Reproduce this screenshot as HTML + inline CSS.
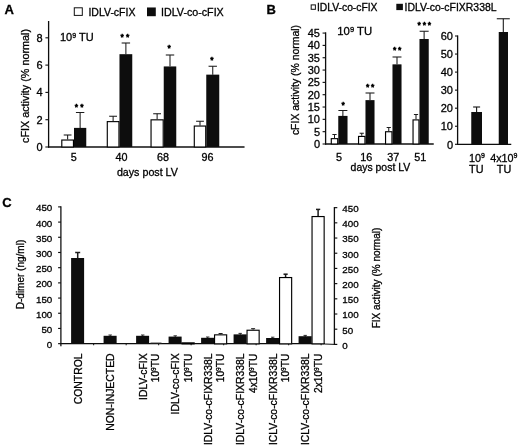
<!DOCTYPE html>
<html><head><meta charset="utf-8"><title>Figure</title>
<style>html,body{margin:0;padding:0;background:#fff;}svg{display:block}text{font-family:"Liberation Sans",sans-serif;}</style>
</head><body>
<svg width="520" height="448" viewBox="0 0 520 448">
<defs><filter id="soft" x="0" y="0" width="520" height="448" filterUnits="userSpaceOnUse"><feGaussianBlur stdDeviation="0.3"/></filter></defs>
<rect width="520" height="448" fill="#fff"/>
<g filter="url(#soft)">
<text x="4.6" y="14" font-size="13" text-anchor="start" font-weight="bold" fill="#050505" stroke="#050505" stroke-width="0.3">A</text>
<rect x="74.3" y="7.8" width="8" height="7.6" fill="#fff" stroke="#111" stroke-width="1"/>
<text x="88.4" y="15.6" font-size="10.5" text-anchor="start" font-weight="normal" fill="#050505" stroke="#050505" stroke-width="0.3">IDLV-cFIX</text>
<rect x="147" y="7.5" width="8.8" height="8.7" fill="#0a0a0a"/>
<text x="161" y="15.6" font-size="10.7" text-anchor="start" font-weight="normal" fill="#050505" stroke="#050505" stroke-width="0.3">IDLV-co-cFIX</text>
<line x1="48.6" y1="21" x2="48.6" y2="147.6" stroke="#111" stroke-width="1.3"/>
<line x1="48.0" y1="147.0" x2="244.5" y2="147.0" stroke="#111" stroke-width="1.3"/>
<line x1="45.4" y1="147.0" x2="48.6" y2="147.0" stroke="#111" stroke-width="1.1"/>
<text x="42.6" y="150.9" font-size="11" text-anchor="end" font-weight="normal" fill="#050505" stroke="#050505" stroke-width="0.3">0</text>
<line x1="45.4" y1="119.7" x2="48.6" y2="119.7" stroke="#111" stroke-width="1.1"/>
<text x="42.6" y="123.60000000000001" font-size="11" text-anchor="end" font-weight="normal" fill="#050505" stroke="#050505" stroke-width="0.3">2</text>
<line x1="45.4" y1="92.4" x2="48.6" y2="92.4" stroke="#111" stroke-width="1.1"/>
<text x="42.6" y="96.30000000000001" font-size="11" text-anchor="end" font-weight="normal" fill="#050505" stroke="#050505" stroke-width="0.3">4</text>
<line x1="45.4" y1="65.1" x2="48.6" y2="65.1" stroke="#111" stroke-width="1.1"/>
<text x="42.6" y="69.0" font-size="11" text-anchor="end" font-weight="normal" fill="#050505" stroke="#050505" stroke-width="0.3">6</text>
<line x1="45.4" y1="37.8" x2="48.6" y2="37.8" stroke="#111" stroke-width="1.1"/>
<text x="42.6" y="41.699999999999996" font-size="11" text-anchor="end" font-weight="normal" fill="#050505" stroke="#050505" stroke-width="0.3">8</text>
<text x="60" y="41.3" font-size="11" text-anchor="start" font-weight="normal" fill="#050505" stroke="#050505" stroke-width="0.3">10<tspan font-size="7" dy="-3.6">9</tspan><tspan dy="3.6"> TU</tspan></text>
<text x="29.2" y="86" font-size="10.8" text-anchor="middle" font-weight="normal" fill="#050505" transform="rotate(-90 29.2 86)" stroke="#050505" stroke-width="0.3">cFIX activity (% normal)</text>
<line x1="67.625" y1="135" x2="67.625" y2="139.4925" stroke="#1a1a1a" stroke-width="1.05"/>
<line x1="63.725" y1="135" x2="71.525" y2="135" stroke="#1a1a1a" stroke-width="1.05"/>
<line x1="80.125" y1="112.5" x2="80.125" y2="127.89" stroke="#1a1a1a" stroke-width="1.05"/>
<line x1="75.925" y1="112.5" x2="84.325" y2="112.5" stroke="#1a1a1a" stroke-width="1.05"/>
<rect x="61.80" y="140.04" width="11.65" height="6.96" fill="#fff" stroke="#050505" stroke-width="1.15"/>
<rect x="74" y="127.89" width="12.25" height="19.11" fill="#0a0a0a"/>
<text x="76.47" y="109.5" font-size="8.6" text-anchor="middle" fill="#111" stroke="#000" stroke-width="0.6">*</text>
<text x="81.97" y="109.5" font-size="8.6" text-anchor="middle" fill="#111" stroke="#000" stroke-width="0.6">*</text>
<text x="73.75" y="161.4" font-size="10.8" text-anchor="middle" font-weight="normal" fill="#050505" stroke="#050505" stroke-width="0.3">5</text>
<line x1="113.125" y1="116.25" x2="113.125" y2="121.065" stroke="#1a1a1a" stroke-width="1.05"/>
<line x1="109.225" y1="116.25" x2="117.025" y2="116.25" stroke="#1a1a1a" stroke-width="1.05"/>
<line x1="125.875" y1="43" x2="125.875" y2="54.18000000000001" stroke="#1a1a1a" stroke-width="1.05"/>
<line x1="121.675" y1="43" x2="130.075" y2="43" stroke="#1a1a1a" stroke-width="1.05"/>
<rect x="107.30" y="121.61" width="11.65" height="25.39" fill="#fff" stroke="#050505" stroke-width="1.15"/>
<rect x="119.5" y="54.18000000000001" width="12.75" height="92.82" fill="#0a0a0a"/>
<text x="122.22" y="39.5" font-size="8.6" text-anchor="middle" fill="#111" stroke="#000" stroke-width="0.6">*</text>
<text x="127.72" y="39.5" font-size="8.6" text-anchor="middle" fill="#111" stroke="#000" stroke-width="0.6">*</text>
<text x="121.5" y="161.4" font-size="10.8" text-anchor="middle" font-weight="normal" fill="#050505" stroke="#050505" stroke-width="0.3">40</text>
<line x1="157.125" y1="113.75" x2="157.125" y2="119.29050000000001" stroke="#1a1a1a" stroke-width="1.05"/>
<line x1="153.225" y1="113.75" x2="161.025" y2="113.75" stroke="#1a1a1a" stroke-width="1.05"/>
<line x1="170.0" y1="55" x2="170.0" y2="66.46499999999999" stroke="#1a1a1a" stroke-width="1.05"/>
<line x1="165.8" y1="55" x2="174.2" y2="55" stroke="#1a1a1a" stroke-width="1.05"/>
<rect x="151.05" y="119.84" width="12.15" height="27.16" fill="#fff" stroke="#050505" stroke-width="1.15"/>
<rect x="163.75" y="66.46499999999999" width="12.5" height="80.53500000000001" fill="#0a0a0a"/>
<text x="169.10" y="51.0" font-size="8.6" text-anchor="middle" fill="#111" stroke="#000" stroke-width="0.6">*</text>
<text x="163.0" y="161.4" font-size="10.8" text-anchor="middle" font-weight="normal" fill="#050505" stroke="#050505" stroke-width="0.3">68</text>
<line x1="200.0" y1="121.25" x2="200.0" y2="125.50125" stroke="#1a1a1a" stroke-width="1.05"/>
<line x1="196.1" y1="121.25" x2="203.9" y2="121.25" stroke="#1a1a1a" stroke-width="1.05"/>
<line x1="212.75" y1="66.25" x2="212.75" y2="74.655" stroke="#1a1a1a" stroke-width="1.05"/>
<line x1="208.55" y1="66.25" x2="216.95" y2="66.25" stroke="#1a1a1a" stroke-width="1.05"/>
<rect x="194.30" y="126.05" width="11.40" height="20.95" fill="#fff" stroke="#050505" stroke-width="1.15"/>
<rect x="206.25" y="74.655" width="13.0" height="72.345" fill="#0a0a0a"/>
<text x="211.85" y="62.5" font-size="8.6" text-anchor="middle" fill="#111" stroke="#000" stroke-width="0.6">*</text>
<text x="207.5" y="161.4" font-size="10.8" text-anchor="middle" font-weight="normal" fill="#050505" stroke="#050505" stroke-width="0.3">96</text>
<text x="147.4" y="176.2" font-size="10.7" text-anchor="middle" font-weight="normal" fill="#050505" stroke="#050505" stroke-width="0.3">days post LV</text>
<text x="266.6" y="14" font-size="13" text-anchor="start" font-weight="bold" fill="#050505" stroke="#050505" stroke-width="0.3">B</text>
<rect x="311.2" y="4.9" width="4.2" height="4.4" fill="#fff" stroke="#111" stroke-width="1"/>
<text x="317" y="11.0" font-size="10.3" text-anchor="start" font-weight="normal" fill="#050505" stroke="#050505" stroke-width="0.3">IDLV-co-cFIX</text>
<rect x="396.3" y="3.8" width="6.6" height="6.3" fill="#0a0a0a"/>
<text x="404.5" y="11.2" font-size="10.45" text-anchor="start" font-weight="normal" fill="#050505" stroke="#050505" stroke-width="0.3">IDLV-co-cFIXR338L</text>
<line x1="325.6" y1="32.3" x2="325.6" y2="144.6" stroke="#111" stroke-width="1.3"/>
<line x1="325.0" y1="144.0" x2="433.75" y2="144.0" stroke="#111" stroke-width="1.3"/>
<line x1="322.6" y1="144.0" x2="325.6" y2="144.0" stroke="#111" stroke-width="1.1"/>
<text x="320" y="148.0" font-size="11" text-anchor="end" font-weight="normal" fill="#050505" stroke="#050505" stroke-width="0.3">0</text>
<line x1="322.6" y1="131.675" x2="325.6" y2="131.675" stroke="#111" stroke-width="1.1"/>
<text x="320" y="135.675" font-size="11" text-anchor="end" font-weight="normal" fill="#050505" stroke="#050505" stroke-width="0.3">5</text>
<line x1="322.6" y1="119.35" x2="325.6" y2="119.35" stroke="#111" stroke-width="1.1"/>
<text x="320" y="123.35" font-size="11" text-anchor="end" font-weight="normal" fill="#050505" stroke="#050505" stroke-width="0.3">10</text>
<line x1="322.6" y1="107.025" x2="325.6" y2="107.025" stroke="#111" stroke-width="1.1"/>
<text x="320" y="111.025" font-size="11" text-anchor="end" font-weight="normal" fill="#050505" stroke="#050505" stroke-width="0.3">15</text>
<line x1="322.6" y1="94.7" x2="325.6" y2="94.7" stroke="#111" stroke-width="1.1"/>
<text x="320" y="98.7" font-size="11" text-anchor="end" font-weight="normal" fill="#050505" stroke="#050505" stroke-width="0.3">20</text>
<line x1="322.6" y1="82.375" x2="325.6" y2="82.375" stroke="#111" stroke-width="1.1"/>
<text x="320" y="86.375" font-size="11" text-anchor="end" font-weight="normal" fill="#050505" stroke="#050505" stroke-width="0.3">25</text>
<line x1="322.6" y1="70.05000000000001" x2="325.6" y2="70.05000000000001" stroke="#111" stroke-width="1.1"/>
<text x="320" y="74.05000000000001" font-size="11" text-anchor="end" font-weight="normal" fill="#050505" stroke="#050505" stroke-width="0.3">30</text>
<line x1="322.6" y1="57.72500000000001" x2="325.6" y2="57.72500000000001" stroke="#111" stroke-width="1.1"/>
<text x="320" y="61.72500000000001" font-size="11" text-anchor="end" font-weight="normal" fill="#050505" stroke="#050505" stroke-width="0.3">35</text>
<line x1="322.6" y1="45.400000000000006" x2="325.6" y2="45.400000000000006" stroke="#111" stroke-width="1.1"/>
<text x="320" y="49.400000000000006" font-size="11" text-anchor="end" font-weight="normal" fill="#050505" stroke="#050505" stroke-width="0.3">40</text>
<line x1="322.6" y1="33.075" x2="325.6" y2="33.075" stroke="#111" stroke-width="1.1"/>
<text x="320" y="37.075" font-size="11" text-anchor="end" font-weight="normal" fill="#050505" stroke="#050505" stroke-width="0.3">45</text>
<text x="337.3" y="35.3" font-size="11.3" text-anchor="start" font-weight="normal" fill="#050505" stroke="#050505" stroke-width="0.3">10<tspan font-size="7.6" dy="-3.6">9</tspan><tspan dy="3.6"> TU</tspan></text>
<text x="299.2" y="80" font-size="10.45" text-anchor="middle" font-weight="normal" fill="#050505" transform="rotate(-90 299.2 80)" stroke="#050505" stroke-width="0.3">cFIX activity (% normal)</text>
<line x1="334.5" y1="134.5" x2="334.5" y2="138.084" stroke="#1a1a1a" stroke-width="1.05"/>
<line x1="332.4" y1="134.5" x2="336.6" y2="134.5" stroke="#1a1a1a" stroke-width="1.05"/>
<line x1="342.875" y1="110.5" x2="342.875" y2="115.899" stroke="#1a1a1a" stroke-width="1.05"/>
<line x1="338.375" y1="110.5" x2="347.375" y2="110.5" stroke="#1a1a1a" stroke-width="1.05"/>
<rect x="331.30" y="138.63" width="6.40" height="5.37" fill="#fff" stroke="#050505" stroke-width="1.15"/>
<rect x="338.25" y="115.899" width="9.25" height="28.101" fill="#0a0a0a"/>
<text x="343.07" y="108.2" font-size="8.6" text-anchor="middle" fill="#111" stroke="#000" stroke-width="0.6">*</text>
<text x="339.05" y="161.3" font-size="10.8" text-anchor="middle" font-weight="normal" fill="#050505" stroke="#050505" stroke-width="0.3">5</text>
<line x1="361.75" y1="133.25" x2="361.75" y2="135.8655" stroke="#1a1a1a" stroke-width="1.05"/>
<line x1="359.65" y1="133.25" x2="363.85" y2="133.25" stroke="#1a1a1a" stroke-width="1.05"/>
<line x1="370.0" y1="93" x2="370.0" y2="100.12299999999999" stroke="#1a1a1a" stroke-width="1.05"/>
<line x1="365.5" y1="93" x2="374.5" y2="93" stroke="#1a1a1a" stroke-width="1.05"/>
<rect x="358.55" y="136.42" width="6.40" height="7.58" fill="#fff" stroke="#050505" stroke-width="1.15"/>
<rect x="365.5" y="100.12299999999999" width="9.0" height="43.87700000000001" fill="#0a0a0a"/>
<text x="367.60" y="90.2" font-size="8.6" text-anchor="middle" fill="#111" stroke="#000" stroke-width="0.6">*</text>
<text x="372.80" y="90.2" font-size="8.6" text-anchor="middle" fill="#111" stroke="#000" stroke-width="0.6">*</text>
<text x="366.3" y="161.3" font-size="10.8" text-anchor="middle" font-weight="normal" fill="#050505" stroke="#050505" stroke-width="0.3">16</text>
<line x1="388.75" y1="127.5" x2="388.75" y2="131.182" stroke="#1a1a1a" stroke-width="1.05"/>
<line x1="386.65" y1="127.5" x2="390.85" y2="127.5" stroke="#1a1a1a" stroke-width="1.05"/>
<line x1="397.0" y1="57" x2="397.0" y2="64.38050000000001" stroke="#1a1a1a" stroke-width="1.05"/>
<line x1="392.5" y1="57" x2="401.5" y2="57" stroke="#1a1a1a" stroke-width="1.05"/>
<rect x="385.55" y="131.73" width="6.40" height="12.27" fill="#fff" stroke="#050505" stroke-width="1.15"/>
<rect x="392.5" y="64.38050000000001" width="9.0" height="79.61949999999999" fill="#0a0a0a"/>
<text x="394.60" y="53.2" font-size="8.6" text-anchor="middle" fill="#111" stroke="#000" stroke-width="0.6">*</text>
<text x="399.80" y="53.2" font-size="8.6" text-anchor="middle" fill="#111" stroke="#000" stroke-width="0.6">*</text>
<text x="393.3" y="161.3" font-size="10.8" text-anchor="middle" font-weight="normal" fill="#050505" stroke="#050505" stroke-width="0.3">37</text>
<line x1="416.0" y1="114.5" x2="416.0" y2="119.35" stroke="#1a1a1a" stroke-width="1.05"/>
<line x1="413.9" y1="114.5" x2="418.1" y2="114.5" stroke="#1a1a1a" stroke-width="1.05"/>
<line x1="424.125" y1="31.25" x2="424.125" y2="38.991" stroke="#1a1a1a" stroke-width="1.05"/>
<line x1="419.625" y1="31.25" x2="428.625" y2="31.25" stroke="#1a1a1a" stroke-width="1.05"/>
<rect x="413.05" y="119.90" width="5.90" height="24.10" fill="#fff" stroke="#050505" stroke-width="1.15"/>
<rect x="419.5" y="38.991" width="9.25" height="105.009" fill="#0a0a0a"/>
<text x="419.12" y="28.2" font-size="8.6" text-anchor="middle" fill="#111" stroke="#000" stroke-width="0.6">*</text>
<text x="424.32" y="28.2" font-size="8.6" text-anchor="middle" fill="#111" stroke="#000" stroke-width="0.6">*</text>
<text x="429.52" y="28.2" font-size="8.6" text-anchor="middle" fill="#111" stroke="#000" stroke-width="0.6">*</text>
<text x="420.3" y="161.3" font-size="10.8" text-anchor="middle" font-weight="normal" fill="#050505" stroke="#050505" stroke-width="0.3">51</text>
<text x="380.4" y="170.7" font-size="10.45" text-anchor="middle" font-weight="normal" fill="#050505" stroke="#050505" stroke-width="0.3">days post LV</text>
<line x1="457.6" y1="35.40000000000001" x2="457.6" y2="144.9" stroke="#111" stroke-width="1.3"/>
<line x1="457.0" y1="144.3" x2="511.25" y2="144.3" stroke="#111" stroke-width="1.3"/>
<line x1="455.0" y1="144.3" x2="457.6" y2="144.3" stroke="#111" stroke-width="1.1"/>
<text x="453.0" y="148.5" font-size="11" text-anchor="end" font-weight="normal" fill="#050505" stroke="#050505" stroke-width="0.3">0</text>
<line x1="455.0" y1="126.25000000000001" x2="457.6" y2="126.25000000000001" stroke="#111" stroke-width="1.1"/>
<text x="453.0" y="130.45000000000002" font-size="11" text-anchor="end" font-weight="normal" fill="#050505" stroke="#050505" stroke-width="0.3">10</text>
<line x1="455.0" y1="108.20000000000002" x2="457.6" y2="108.20000000000002" stroke="#111" stroke-width="1.1"/>
<text x="453.0" y="112.40000000000002" font-size="11" text-anchor="end" font-weight="normal" fill="#050505" stroke="#050505" stroke-width="0.3">20</text>
<line x1="455.0" y1="90.15" x2="457.6" y2="90.15" stroke="#111" stroke-width="1.1"/>
<text x="453.0" y="94.35000000000001" font-size="11" text-anchor="end" font-weight="normal" fill="#050505" stroke="#050505" stroke-width="0.3">30</text>
<line x1="455.0" y1="72.10000000000001" x2="457.6" y2="72.10000000000001" stroke="#111" stroke-width="1.1"/>
<text x="453.0" y="76.30000000000001" font-size="11" text-anchor="end" font-weight="normal" fill="#050505" stroke="#050505" stroke-width="0.3">40</text>
<line x1="455.0" y1="54.05000000000001" x2="457.6" y2="54.05000000000001" stroke="#111" stroke-width="1.1"/>
<text x="453.0" y="58.250000000000014" font-size="11" text-anchor="end" font-weight="normal" fill="#050505" stroke="#050505" stroke-width="0.3">50</text>
<line x1="455.0" y1="36.000000000000014" x2="457.6" y2="36.000000000000014" stroke="#111" stroke-width="1.1"/>
<text x="453.0" y="40.20000000000002" font-size="11" text-anchor="end" font-weight="normal" fill="#050505" stroke="#050505" stroke-width="0.3">60</text>
<line x1="476.6" y1="107" x2="476.6" y2="112" stroke="#1a1a1a" stroke-width="1.1"/>
<line x1="473.1" y1="107" x2="480.1" y2="107" stroke="#1a1a1a" stroke-width="1.1"/>
<rect x="471.25" y="111.99050000000003" width="10.75" height="32.309499999999986" fill="#0a0a0a"/>
<line x1="503.3" y1="18.75" x2="503.3" y2="33" stroke="#1a1a1a" stroke-width="1.1"/>
<line x1="496.8" y1="18.75" x2="509.8" y2="18.75" stroke="#1a1a1a" stroke-width="1.1"/>
<rect x="498.75" y="32" width="9.25" height="112.30000000000001" fill="#0a0a0a"/>
<text x="477" y="161.8" font-size="10.8" text-anchor="middle" font-weight="normal" fill="#050505" stroke="#050505" stroke-width="0.3">10<tspan font-size="7" dy="-3.6">9</tspan></text>
<text x="476.3" y="173.3" font-size="10.8" text-anchor="middle" font-weight="normal" fill="#050505" stroke="#050505" stroke-width="0.3">TU</text>
<text x="503.8" y="161.8" font-size="10.8" text-anchor="middle" font-weight="normal" fill="#050505" stroke="#050505" stroke-width="0.3">4x10<tspan font-size="7" dy="-3.6">9</tspan></text>
<text x="504" y="173.3" font-size="10.8" text-anchor="middle" font-weight="normal" fill="#050505" stroke="#050505" stroke-width="0.3">TU</text>
<text x="2.3" y="206.5" font-size="13" text-anchor="start" font-weight="bold" fill="#050505" stroke="#050505" stroke-width="0.3">C</text>
<line x1="60.9" y1="206.295" x2="60.9" y2="346.25" stroke="#111" stroke-width="1.3"/>
<line x1="334.4" y1="207.045" x2="334.4" y2="345.0" stroke="#111" stroke-width="1.3"/>
<line x1="60.3" y1="343.65" x2="325" y2="343.65" stroke="#111" stroke-width="1.25"/>
<line x1="325" y1="344.04999999999995" x2="335.0" y2="344.4" stroke="#111" stroke-width="1.0"/>
<line x1="58.1" y1="343.65" x2="60.9" y2="343.65" stroke="#111" stroke-width="1.15"/>
<text x="52.3" y="348.09999999999997" font-size="9.8" text-anchor="end" font-weight="normal" fill="#050505" stroke="#050505" stroke-width="0.3">0</text>
<line x1="334.4" y1="344.4" x2="337.29999999999995" y2="344.4" stroke="#111" stroke-width="1.15"/>
<text x="342.3" y="348.79999999999995" font-size="9.8" text-anchor="start" font-weight="normal" fill="#050505" stroke="#050505" stroke-width="0.3">0</text>
<line x1="58.1" y1="328.455" x2="60.9" y2="328.455" stroke="#111" stroke-width="1.15"/>
<text x="52.3" y="332.905" font-size="9.8" text-anchor="end" font-weight="normal" fill="#050505" stroke="#050505" stroke-width="0.3">50</text>
<line x1="334.4" y1="329.205" x2="337.29999999999995" y2="329.205" stroke="#111" stroke-width="1.15"/>
<text x="342.3" y="333.60499999999996" font-size="9.8" text-anchor="start" font-weight="normal" fill="#050505" stroke="#050505" stroke-width="0.3">50</text>
<line x1="58.1" y1="313.26" x2="60.9" y2="313.26" stroke="#111" stroke-width="1.15"/>
<text x="52.3" y="317.71" font-size="9.8" text-anchor="end" font-weight="normal" fill="#050505" stroke="#050505" stroke-width="0.3">100</text>
<line x1="334.4" y1="314.01" x2="337.29999999999995" y2="314.01" stroke="#111" stroke-width="1.15"/>
<text x="342.3" y="318.40999999999997" font-size="9.8" text-anchor="start" font-weight="normal" fill="#050505" stroke="#050505" stroke-width="0.3">100</text>
<line x1="58.1" y1="298.065" x2="60.9" y2="298.065" stroke="#111" stroke-width="1.15"/>
<text x="52.3" y="302.515" font-size="9.8" text-anchor="end" font-weight="normal" fill="#050505" stroke="#050505" stroke-width="0.3">150</text>
<line x1="334.4" y1="298.815" x2="337.29999999999995" y2="298.815" stroke="#111" stroke-width="1.15"/>
<text x="342.3" y="303.215" font-size="9.8" text-anchor="start" font-weight="normal" fill="#050505" stroke="#050505" stroke-width="0.3">150</text>
<line x1="58.1" y1="282.87" x2="60.9" y2="282.87" stroke="#111" stroke-width="1.15"/>
<text x="52.3" y="287.32" font-size="9.8" text-anchor="end" font-weight="normal" fill="#050505" stroke="#050505" stroke-width="0.3">200</text>
<line x1="334.4" y1="283.62" x2="337.29999999999995" y2="283.62" stroke="#111" stroke-width="1.15"/>
<text x="342.3" y="288.02" font-size="9.8" text-anchor="start" font-weight="normal" fill="#050505" stroke="#050505" stroke-width="0.3">200</text>
<line x1="58.1" y1="267.67499999999995" x2="60.9" y2="267.67499999999995" stroke="#111" stroke-width="1.15"/>
<text x="52.3" y="272.12499999999994" font-size="9.8" text-anchor="end" font-weight="normal" fill="#050505" stroke="#050505" stroke-width="0.3">250</text>
<line x1="334.4" y1="268.42499999999995" x2="337.29999999999995" y2="268.42499999999995" stroke="#111" stroke-width="1.15"/>
<text x="342.3" y="272.82499999999993" font-size="9.8" text-anchor="start" font-weight="normal" fill="#050505" stroke="#050505" stroke-width="0.3">250</text>
<line x1="58.1" y1="252.47999999999996" x2="60.9" y2="252.47999999999996" stroke="#111" stroke-width="1.15"/>
<text x="52.3" y="256.92999999999995" font-size="9.8" text-anchor="end" font-weight="normal" fill="#050505" stroke="#050505" stroke-width="0.3">300</text>
<line x1="334.4" y1="253.22999999999996" x2="337.29999999999995" y2="253.22999999999996" stroke="#111" stroke-width="1.15"/>
<text x="342.3" y="257.62999999999994" font-size="9.8" text-anchor="start" font-weight="normal" fill="#050505" stroke="#050505" stroke-width="0.3">300</text>
<line x1="58.1" y1="237.28499999999997" x2="60.9" y2="237.28499999999997" stroke="#111" stroke-width="1.15"/>
<text x="52.3" y="241.73499999999996" font-size="9.8" text-anchor="end" font-weight="normal" fill="#050505" stroke="#050505" stroke-width="0.3">350</text>
<line x1="334.4" y1="238.03499999999997" x2="337.29999999999995" y2="238.03499999999997" stroke="#111" stroke-width="1.15"/>
<text x="342.3" y="242.43499999999997" font-size="9.8" text-anchor="start" font-weight="normal" fill="#050505" stroke="#050505" stroke-width="0.3">350</text>
<line x1="58.1" y1="222.08999999999997" x2="60.9" y2="222.08999999999997" stroke="#111" stroke-width="1.15"/>
<text x="52.3" y="226.53999999999996" font-size="9.8" text-anchor="end" font-weight="normal" fill="#050505" stroke="#050505" stroke-width="0.3">400</text>
<line x1="334.4" y1="222.83999999999997" x2="337.29999999999995" y2="222.83999999999997" stroke="#111" stroke-width="1.15"/>
<text x="342.3" y="227.23999999999998" font-size="9.8" text-anchor="start" font-weight="normal" fill="#050505" stroke="#050505" stroke-width="0.3">400</text>
<line x1="58.1" y1="206.89499999999998" x2="60.9" y2="206.89499999999998" stroke="#111" stroke-width="1.15"/>
<text x="52.3" y="211.34499999999997" font-size="9.8" text-anchor="end" font-weight="normal" fill="#050505" stroke="#050505" stroke-width="0.3">450</text>
<line x1="334.4" y1="207.64499999999998" x2="337.29999999999995" y2="207.64499999999998" stroke="#111" stroke-width="1.15"/>
<text x="342.3" y="212.045" font-size="9.8" text-anchor="start" font-weight="normal" fill="#050505" stroke="#050505" stroke-width="0.3">450</text>
<line x1="93.65" y1="343.65" x2="93.65" y2="345.25" stroke="#111" stroke-width="1"/>
<line x1="126.15" y1="343.65" x2="126.15" y2="345.25" stroke="#111" stroke-width="1"/>
<line x1="158.65" y1="343.65" x2="158.65" y2="345.25" stroke="#111" stroke-width="1"/>
<line x1="191.15" y1="343.65" x2="191.15" y2="345.25" stroke="#111" stroke-width="1"/>
<line x1="223.65" y1="343.65" x2="223.65" y2="345.25" stroke="#111" stroke-width="1"/>
<line x1="256.15" y1="343.65" x2="256.15" y2="345.25" stroke="#111" stroke-width="1"/>
<line x1="288.65" y1="343.65" x2="288.65" y2="345.25" stroke="#111" stroke-width="1"/>
<line x1="321.15" y1="343.65" x2="321.15" y2="345.25" stroke="#111" stroke-width="1"/>
<text x="24" y="274.5" font-size="10" text-anchor="middle" font-weight="normal" fill="#050505" transform="rotate(-90 24 274.5)" stroke="#050505" stroke-width="0.3">D-dimer (ng/ml)</text>
<text x="379.5" y="278" font-size="10" text-anchor="middle" font-weight="normal" fill="#050505" transform="rotate(-90 379.5 278)" stroke="#050505" stroke-width="0.3">FIX activity (% normal)</text>
<line x1="77.7" y1="252.5" x2="77.7" y2="259.0" stroke="#1a1a1a" stroke-width="1.5"/>
<line x1="75.2" y1="252.5" x2="80.2" y2="252.5" stroke="#1a1a1a" stroke-width="1.5"/>
<rect x="71.1" y="258.0" width="13.0" height="85.94999999999999" fill="#0a0a0a"/>
<text x="81.6" y="353.4" font-size="10.4" text-anchor="end" font-weight="normal" fill="#050505" transform="rotate(-90 81.6 353.4)" stroke="#050505" stroke-width="0.3">CONTROL</text>
<line x1="110.2" y1="335.0" x2="110.2" y2="336.8" stroke="#1a1a1a" stroke-width="0.9"/>
<line x1="108.5" y1="335.0" x2="111.9" y2="335.0" stroke="#1a1a1a" stroke-width="0.9"/>
<rect x="103.6" y="335.8" width="13.0" height="8.149999999999977" fill="#0a0a0a"/>
<text x="114.1" y="353.4" font-size="10.4" text-anchor="end" font-weight="normal" fill="#050505" transform="rotate(-90 114.1 353.4)" stroke="#050505" stroke-width="0.3">NON-INJECTED</text>
<line x1="142.7" y1="335.0" x2="142.7" y2="336.8" stroke="#1a1a1a" stroke-width="0.9"/>
<line x1="141.0" y1="335.0" x2="144.39999999999998" y2="335.0" stroke="#1a1a1a" stroke-width="0.9"/>
<rect x="136.1" y="335.8" width="13.0" height="8.149999999999977" fill="#0a0a0a"/>
<line x1="150.5" y1="342.75" x2="161.5" y2="342.75" stroke="#555" stroke-width="0.7"/>
<text x="146.6" y="353.4" font-size="10.4" text-anchor="end" font-weight="normal" fill="#050505" transform="rotate(-90 146.6 353.4)" stroke="#050505" stroke-width="0.3">IDLV-cFIX</text>
<text x="159.3" y="353.7" font-size="10.2" text-anchor="end" font-weight="normal" fill="#050505" transform="rotate(-90 159.3 353.7)" stroke="#050505" stroke-width="0.3">10<tspan font-size="6.5" dy="-3.2">9</tspan><tspan dy="3.2">TU</tspan></text>
<line x1="175.2" y1="335.8" x2="175.2" y2="337.6" stroke="#1a1a1a" stroke-width="0.9"/>
<line x1="173.5" y1="335.8" x2="176.89999999999998" y2="335.8" stroke="#1a1a1a" stroke-width="0.9"/>
<rect x="168.6" y="336.6" width="13.0" height="7.349999999999966" fill="#0a0a0a"/>
<rect x="182.05" y="342.85" width="12.10" height="1.00" fill="#fff" stroke="#050505" stroke-width="1.15"/>
<text x="179.1" y="353.4" font-size="10.4" text-anchor="end" font-weight="normal" fill="#050505" transform="rotate(-90 179.1 353.4)" stroke="#050505" stroke-width="0.3">IDLV-co-cFIX</text>
<text x="191.8" y="353.7" font-size="10.2" text-anchor="end" font-weight="normal" fill="#050505" transform="rotate(-90 191.8 353.7)" stroke="#050505" stroke-width="0.3">10<tspan font-size="6.5" dy="-3.2">9</tspan><tspan dy="3.2">TU</tspan></text>
<line x1="207.7" y1="337.0" x2="207.7" y2="338.8" stroke="#1a1a1a" stroke-width="0.9"/>
<line x1="206.0" y1="337.0" x2="209.39999999999998" y2="337.0" stroke="#1a1a1a" stroke-width="0.9"/>
<rect x="201.1" y="337.8" width="13.0" height="6.149999999999977" fill="#0a0a0a"/>
<line x1="220.6" y1="333.5" x2="220.6" y2="334.3" stroke="#1a1a1a" stroke-width="1.0"/>
<line x1="218.6" y1="333.5" x2="222.6" y2="333.5" stroke="#1a1a1a" stroke-width="1.0"/>
<rect x="214.55" y="334.85" width="12.10" height="9.00" fill="#fff" stroke="#050505" stroke-width="1.15"/>
<text x="211.6" y="353.4" font-size="10.4" text-anchor="end" font-weight="normal" fill="#050505" transform="rotate(-90 211.6 353.4)" stroke="#050505" stroke-width="0.3">IDLV-co-cFIXR338L</text>
<text x="224.3" y="353.7" font-size="10.2" text-anchor="end" font-weight="normal" fill="#050505" transform="rotate(-90 224.3 353.7)" stroke="#050505" stroke-width="0.3">10<tspan font-size="6.5" dy="-3.2">9</tspan><tspan dy="3.2">TU</tspan></text>
<line x1="240.2" y1="333.4" x2="240.2" y2="335.4" stroke="#1a1a1a" stroke-width="0.9"/>
<line x1="238.5" y1="333.4" x2="241.89999999999998" y2="333.4" stroke="#1a1a1a" stroke-width="0.9"/>
<rect x="233.6" y="334.4" width="13.0" height="9.550000000000011" fill="#0a0a0a"/>
<line x1="253.1" y1="328.7" x2="253.1" y2="329.7" stroke="#1a1a1a" stroke-width="1.0"/>
<line x1="251.1" y1="328.7" x2="255.1" y2="328.7" stroke="#1a1a1a" stroke-width="1.0"/>
<rect x="247.05" y="330.25" width="12.10" height="13.60" fill="#fff" stroke="#050505" stroke-width="1.15"/>
<text x="244.1" y="353.4" font-size="10.4" text-anchor="end" font-weight="normal" fill="#050505" transform="rotate(-90 244.1 353.4)" stroke="#050505" stroke-width="0.3">IDLV-co-cFIXR338L</text>
<text x="256.8" y="353.7" font-size="10.2" text-anchor="end" font-weight="normal" fill="#050505" transform="rotate(-90 256.8 353.7)" stroke="#050505" stroke-width="0.3">4x10<tspan font-size="6.5" dy="-3.2">9</tspan><tspan dy="3.2">TU</tspan></text>
<line x1="272.7" y1="337.2" x2="272.7" y2="339.0" stroke="#1a1a1a" stroke-width="0.9"/>
<line x1="271.0" y1="337.2" x2="274.4" y2="337.2" stroke="#1a1a1a" stroke-width="0.9"/>
<rect x="266.1" y="338.0" width="13.0" height="5.949999999999989" fill="#0a0a0a"/>
<line x1="285.6" y1="274.2" x2="285.6" y2="277.0" stroke="#1a1a1a" stroke-width="1.5"/>
<line x1="283.5" y1="274.2" x2="287.70000000000005" y2="274.2" stroke="#1a1a1a" stroke-width="1.5"/>
<rect x="279.55" y="277.55" width="12.10" height="66.30" fill="#fff" stroke="#050505" stroke-width="1.15"/>
<text x="276.6" y="353.4" font-size="10.4" text-anchor="end" font-weight="normal" fill="#050505" transform="rotate(-90 276.6 353.4)" stroke="#050505" stroke-width="0.3">ICLV-co-cFIXR338L</text>
<text x="289.3" y="353.7" font-size="10.2" text-anchor="end" font-weight="normal" fill="#050505" transform="rotate(-90 289.3 353.7)" stroke="#050505" stroke-width="0.3">10<tspan font-size="6.5" dy="-3.2">9</tspan><tspan dy="3.2">TU</tspan></text>
<line x1="305.2" y1="335.4" x2="305.2" y2="337.2" stroke="#1a1a1a" stroke-width="0.9"/>
<line x1="303.5" y1="335.4" x2="306.9" y2="335.4" stroke="#1a1a1a" stroke-width="0.9"/>
<rect x="298.6" y="336.2" width="13.0" height="7.75" fill="#0a0a0a"/>
<line x1="318.1" y1="209.4" x2="318.1" y2="216.0" stroke="#1a1a1a" stroke-width="1.5"/>
<line x1="316.0" y1="209.4" x2="320.20000000000005" y2="209.4" stroke="#1a1a1a" stroke-width="1.5"/>
<rect x="312.05" y="216.55" width="12.10" height="127.30" fill="#fff" stroke="#050505" stroke-width="1.15"/>
<text x="309.1" y="353.4" font-size="10.4" text-anchor="end" font-weight="normal" fill="#050505" transform="rotate(-90 309.1 353.4)" stroke="#050505" stroke-width="0.3">ICLV-co-cFIXR338L</text>
<text x="321.8" y="353.7" font-size="10.2" text-anchor="end" font-weight="normal" fill="#050505" transform="rotate(-90 321.8 353.7)" stroke="#050505" stroke-width="0.3">2x10<tspan font-size="6.5" dy="-3.2">9</tspan><tspan dy="3.2">TU</tspan></text>
</g>
</svg>
</body></html>
